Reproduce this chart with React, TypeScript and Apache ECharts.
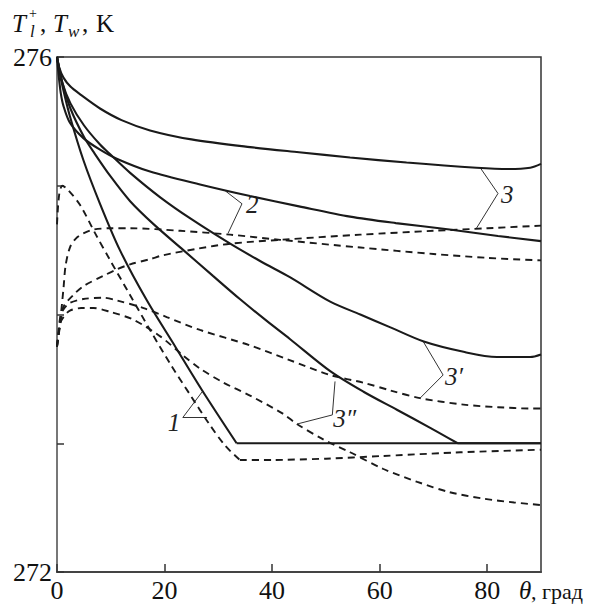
import React, { useEffect, useRef } from "react";
import * as echarts from "echarts";

type Pt = [number, number];

// Wall temperature T_w (solid lines)
const wall1: Pt[] = [[0, 276], [0.5, 275.88], [1.2, 275.74], [2.4, 275.54], [4.9, 275.2], [8, 274.86], [11.7, 274.5], [16.7, 274.11], [22, 273.75], [27, 273.41], [33.4, 273], [40, 273], [60, 273], [90, 273]];
const wall2: Pt[] = [[0, 276], [0.3, 275.86], [0.7, 275.72], [1.2, 275.62], [2.4, 275.49], [4.9, 275.37], [8, 275.28], [11.1, 275.21], [17.3, 275.11], [26.6, 275.01], [35.9, 274.92], [45, 274.84], [54.5, 274.76], [63, 274.71], [73, 274.66], [82, 274.61], [90, 274.57]];
const wall3: Pt[] = [[0, 276], [0.4, 275.92], [1.2, 275.84], [2.5, 275.77], [4.3, 275.71], [8, 275.6], [12, 275.51], [17.3, 275.43], [25, 275.36], [35.9, 275.3], [45, 275.26], [54.5, 275.22], [65, 275.18], [78, 275.14], [84, 275.13], [88, 275.14], [90, 275.17]];
const wall3p: Pt[] = [[0, 276], [1, 275.8], [2.5, 275.64], [5, 275.47], [8, 275.32], [10, 275.24], [13.6, 275.1], [19.2, 274.91], [25, 274.74], [32.2, 274.55], [38, 274.41], [43.3, 274.29], [50.8, 274.1], [56.4, 274.0], [62, 273.9], [68.2, 273.79], [75.6, 273.71], [81.8, 273.67], [88, 273.67], [90, 273.69]];
const wall3pp: Pt[] = [[0, 276], [1, 275.8], [2.5, 275.6], [5, 275.38], [7, 275.25], [10, 275.07], [13.6, 274.88], [18, 274.7], [23.5, 274.5], [29, 274.3], [34, 274.12], [39, 273.95], [43.3, 273.81], [50.8, 273.56], [57, 273.4], [63.2, 273.26], [69.4, 273.12], [74.5, 273.0], [80, 273], [90, 273]];

// Liquid temperature T_l^+ (dashed lines)
const liquid1: Pt[] = [[0, 274.7], [0.4, 274.93], [1, 275.0], [2, 274.97], [4.3, 274.85], [7.1, 274.63], [9.9, 274.42], [13.6, 274.15], [17.3, 273.88], [21, 273.62], [24.7, 273.38], [28.3, 273.15], [31.3, 272.98], [34, 272.87], [40, 272.87], [50, 272.88], [60, 272.9], [75, 272.93], [90, 272.95]];
const liquid2: Pt[] = [[0, 273.75], [0.6, 273.95], [1.2, 274.2], [1.6, 274.38], [2.4, 274.52], [3.5, 274.59], [4.9, 274.63], [6.8, 274.66], [10, 274.67], [13.6, 274.67], [22.9, 274.65], [32.2, 274.62], [41.5, 274.58], [56.4, 274.52], [70, 274.47], [80, 274.44], [90, 274.42]];
const liquid3: Pt[] = [[0, 273.75], [0.7, 273.95], [1.2, 274.06], [3, 274.15], [4.9, 274.22], [8.6, 274.3], [11.1, 274.35], [13.6, 274.39], [17.3, 274.43], [19.7, 274.46], [26, 274.51], [32.2, 274.55], [41.5, 274.58], [56.4, 274.62], [70, 274.65], [80, 274.67], [90, 274.69]];
const liquid3p: Pt[] = [[0, 273.75], [0.6, 273.98], [1.2, 274.04], [2.4, 274.09], [4.9, 274.12], [8.6, 274.13], [11.1, 274.11], [16.1, 274.05], [20.4, 273.98], [26.6, 273.88], [35.9, 273.76], [43, 273.65], [50.8, 273.53], [57, 273.47], [62, 273.41], [67.5, 273.35], [75.6, 273.3], [82, 273.28], [88, 273.27], [90, 273.27]];
const liquid3pp: Pt[] = [[0, 273.75], [0.6, 273.93], [1.2, 273.98], [2.4, 274.03], [4.5, 274.05], [6.8, 274.05], [9.9, 274.02], [14.2, 273.96], [19.2, 273.83], [23.5, 273.68], [26.6, 273.58], [31, 273.47], [35.9, 273.37], [42, 273.23], [44.6, 273.15], [49.5, 273.03], [54.5, 272.93], [60.7, 272.8], [67, 272.7], [73, 272.62], [79.3, 272.57], [85, 272.54], [90, 272.52]];

// Angles where a curve reaches the freezing plateau (sharp corner)
const wall1Corner = 33.4;
const wall3ppCorner = 74.5;
const liquid1Corner = 34;

const xTicks = [0, 20, 40, 60, 80];
const yTickLabels = [272, 276];

// Curve labels: text, point on the solid curve, point on the dashed curve, leader vertex (data units)
const curveLabels = ["1", "2", "3", "3\u2032", "3\u2033"];
const labelSolidPts: Pt[] = [[27.0, 273.4], [31.3, 274.96], [78.7, 275.14], [68.1, 273.79], [51.7, 273.48]];
const labelDashedPts: Pt[] = [[27.9, 273.2], [31.8, 274.63], [78.0, 274.67], [67.5, 273.35], [44.7, 273.15]];
const labelVertices: Pt[] = [[23.4, 273.2], [34.4, 274.86], [82.0, 274.94], [71.8, 273.53], [51.2, 273.22]];

const FONT = '"Liberation Serif", "DejaVu Serif", serif';
const INK = "#1a1a1a";

function splitAt(data: Pt[], cx?: number): Pt[][] {
  if (cx === undefined) return [data];
  return [data.filter((p) => p[0] <= cx), data.filter((p) => p[0] >= cx)];
}

function makeSeries(data: Pt[], dashed: boolean, corner?: number) {
  return splitAt(data, corner).map((seg, i) => ({
    type: "line" as const,
    data: seg,
    showSymbol: false,
    symbol: "none",
    smooth: i === 0 ? 0.3 : 0.15,
    silent: true,
    lineStyle: {
      color: INK,
      width: dashed ? 1.9 : 2.1,
      type: dashed ? ([7, 5] as number[]) : "solid",
    },
  }));
}

export default function App() {
  const ref = useRef<HTMLDivElement>(null);

  useEffect(() => {
    if (!ref.current) return;
    const chart = echarts.init(ref.current, null, { renderer: "svg" });

    const series = [
      ...makeSeries(wall1, false, wall1Corner),
      ...makeSeries(wall2, false),
      ...makeSeries(wall3, false),
      ...makeSeries(wall3p, false),
      ...makeSeries(wall3pp, false, wall3ppCorner),
      ...makeSeries(liquid1, true, liquid1Corner),
      ...makeSeries(liquid2, true),
      ...makeSeries(liquid3, true),
      ...makeSeries(liquid3p, true),
      ...makeSeries(liquid3pp, true),
    ];

    chart.setOption({
      animation: false,
      backgroundColor: "#ffffff",
      grid: {
        left: 57,
        right: 49,
        top: 57,
        bottom: 33,
        show: true,
        borderColor: "#333",
        borderWidth: 1.5,
      },
      xAxis: {
        type: "value",
        min: 0,
        max: 90,
        interval: 20,
        axisLine: { show: true, onZero: false, lineStyle: { color: "#444", width: 2 } },
        axisTick: { show: true, inside: true, length: 8, lineStyle: { color: "#333", width: 1.5 } },
        axisLabel: {
          color: "#111",
          fontSize: 26,
          fontFamily: FONT,
          margin: 5,
          showMaxLabel: false,
          formatter: (v: number) => (xTicks.includes(v) ? String(v) : ""),
        },
        splitLine: { show: false },
      },
      yAxis: {
        type: "value",
        min: 272,
        max: 276,
        interval: 1,
        axisLine: { show: true, lineStyle: { color: "#777", width: 2 } },
        axisTick: { show: true, inside: true, length: 7, lineStyle: { color: "#333", width: 1.5 } },
        axisLabel: {
          color: "#111",
          fontSize: 26,
          fontFamily: FONT,
          margin: 5,
          formatter: (v: number) => (yTickLabels.includes(v) ? String(v) : ""),
        },
        splitLine: { show: false },
      },
      series,
    });

    const px = (p: Pt) => chart.convertToPixel({ gridIndex: 0 }, p) as number[];
    const textOffsets: Pt[] = [[-15, -8], [4, -12], [3, -11], [2, -11], [1, -9]];

    const graphics: any[] = [];
    curveLabels.forEach((t, i) => {
      const v = px(labelVertices[i]);
      const a = px(labelSolidPts[i]);
      const b = px(labelDashedPts[i]);
      graphics.push({
        type: "polyline",
        silent: true,
        shape: { points: [a, v, b] },
        style: { stroke: "#333", lineWidth: 1, fill: "none" },
      });
      graphics.push({
        type: "text",
        silent: true,
        style: {
          text: t,
          x: v[0] + textOffsets[i][0],
          y: v[1] + textOffsets[i][1],
          font: `italic 25px ${FONT}`,
          fill: "#222",
          verticalAlign: "top",
          align: "left",
        },
      });
    });

    // Axis titles
    const title = [
      { text: "T", x: 12, y: 23, font: `italic 25px ${FONT}` },
      { text: "+", x: 29, y: 13, font: `14px ${FONT}` },
      { text: "l", x: 30, y: 31, font: `italic 17px ${FONT}` },
      { text: ",", x: 40, y: 23, font: `25px ${FONT}` },
      { text: "T", x: 53, y: 23, font: `italic 25px ${FONT}` },
      { text: "w", x: 68, y: 31, font: `italic 17px ${FONT}` },
      { text: ",", x: 82, y: 23, font: `25px ${FONT}` },
      { text: "K", x: 96, y: 23, font: `25px ${FONT}` },
      { text: "\u03b8", x: 519, y: 590, font: `italic 25px ${FONT}` },
      { text: ", град", x: 531, y: 591, font: `22px ${FONT}` },
    ];
    title.forEach((s) =>
      graphics.push({
        type: "text",
        silent: true,
        style: { ...s, fill: "#111", verticalAlign: "middle", align: "left" },
      })
    );

    chart.setOption({ graphic: graphics });

    return () => chart.dispose();
  }, []);

  return (
    <div
      ref={ref}
      style={{ position: "absolute", left: 0, top: 0, width: 590, height: 605, background: "#fff" }}
    />
  );
}
